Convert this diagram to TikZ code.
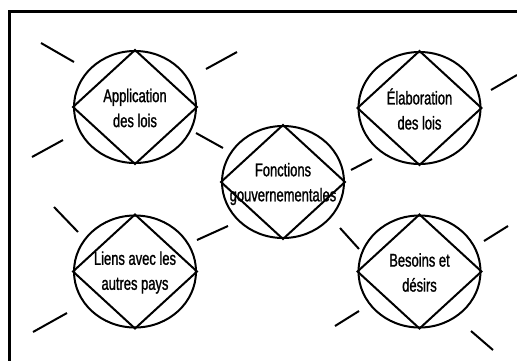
\documentclass[tikz,border=0pt]{standalone}
\usepackage{fontspec}
\newfontfamily\lblfont[FakeStretch=0.70,FakeBold=1.2]{Liberation Sans}
\usetikzlibrary{shapes.geometric}
\tikzset{
  ray/.style={line width=2pt},
  ring/.style={ellipse, draw, line width=2pt, minimum width=122pt, minimum height=112pt, inner sep=0pt},
  kite/.style={draw, line width=2pt},
  lbl/.style={align=center, font=\lblfont\fontsize{18.5}{25}\selectfont, inner sep=0pt}
}
\begin{document}
\begin{tikzpicture}[x=1pt,y=-1pt]
\useasboundingbox (0,0) rectangle (517,360);
\begin{scope}
\clip (0,0) rectangle (517,360);
\draw[line width=3pt] (9.5,11.5) rectangle (530,380);
\end{scope}
% nodes
\foreach \n/\cx/\cy in {app/135/107, ela/419.5/108, fon/283/182, lie/135/271.5, bes/419.5/271.5}{
  \node[ring] (\n) at (\cx,\cy) {};
  \draw[kite] (\n.west) -- (\n.north) -- (\n.east) -- (\n.south) -- cycle;
}
\node[lbl] (tapp) at ([yshift=-1pt]app.center) {Application\\des lois};
\node[lbl] (tela) at ([yshift=-1pt]ela.center) {Élaboration\\des lois};
\node[lbl] (tfon) at ([yshift=-2pt]fon.center) {Fonctions\\gouvernementales};
\node[lbl] (tlie) at ([yshift=-1pt]lie.center) {Liens avec les\\autres pays};
\node[lbl] (tbes) at ([yshift=-1pt]bes.center) {Besoins et\\désirs};
% rays
\foreach \ax/\ay/\bx/\by in {41/43/74/62, 206/69/237/52, 32/157/63/140, 196/133/223/148,
  491/90/517/75, 351/170/372/159, 197/240/228/226, 340/228/359/249, 54/207/78/232,
  33/332/67/313, 484/241/508/226, 335/326/359/311, 471/331/493/350}{
  \draw[ray] (\ax,\ay) -- (\bx,\by);
}
\end{tikzpicture}
\end{document}
